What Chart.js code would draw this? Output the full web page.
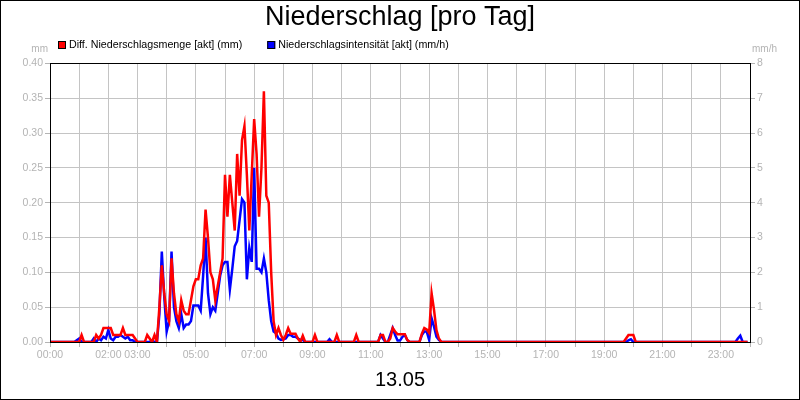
<!DOCTYPE html>
<html>
<head>
<meta charset="utf-8">
<script src="https://cdn.jsdelivr.net/npm/chart.js@4/dist/chart.umd.min.js"></script>
<style>
  html, body { margin: 0; padding: 0; background: #fff; }
  #wrap { width: 800px; height: 400px; }
</style>
</head>
<body>
<div id="wrap"><canvas id="rainChart" width="800" height="400"></canvas></div>
<script>
// 5-Minuten-Werte, eine Zeile = eine Stunde (00:00 ... 23:55)
const STEP_MIN = 5;

const mengeValues = [ // mm
  0, 0, 0, 0, 0, 0, 0, 0, 0, 0, 0, 0,
  0, 0.01, 0, 0, 0, 0, 0, 0.01, 0.005, 0.01, 0.02, 0.02,
  0.02, 0.02, 0.01, 0.01, 0.01, 0.01, 0.02, 0.01, 0.01, 0.01, 0.01, 0.005,
  0, 0, 0, 0, 0.01, 0.005, 0, 0.01, 0, 0.05, 0.11, 0.07,
  0.04, 0.03, 0.12, 0.07, 0.04, 0.03, 0.06, 0.045, 0.04, 0.04, 0.06, 0.08,
  0.09, 0.09, 0.11, 0.12, 0.19, 0.15, 0.10, 0.09, 0.06, 0.08, 0.10, 0.12,
  0.24, 0.18, 0.24, 0.20, 0.16, 0.27, 0.21, 0.29, 0.31, 0.24, 0.16, 0.24,
  0.32, 0.27, 0.18, 0.25, 0.36, 0.21, 0.20, 0.10, 0.03, 0.01, 0.02, 0.01,
  0.003, 0.01, 0.02, 0.012, 0.012, 0.012, 0.005, 0, 0.009, 0, 0, 0,
  0, 0.01, 0, 0, 0, 0, 0, 0, 0, 0, 0.01, 0,
  0, 0, 0, 0, 0, 0, 0.01, 0, 0, 0, 0, 0,
  0, 0, 0, 0, 0.01, 0.01, 0, 0, 0.005, 0.02, 0.015, 0.011,
  0.011, 0.011, 0.011, 0.003, 0, 0, 0, 0, 0, 0.012, 0.02, 0.018,
  0.013, 0.07, 0.046, 0.017, 0.005, 0, 0, 0, 0, 0, 0, 0,
  0, 0, 0, 0, 0, 0, 0, 0, 0, 0, 0, 0,
  0, 0, 0, 0, 0, 0, 0, 0, 0, 0, 0, 0,
  0, 0, 0, 0, 0, 0, 0, 0, 0, 0, 0, 0,
  0, 0, 0, 0, 0, 0, 0, 0, 0, 0, 0, 0,
  0, 0, 0, 0, 0, 0, 0, 0, 0, 0, 0, 0,
  0, 0, 0, 0, 0, 0, 0, 0, 0, 0.005, 0.01, 0.01,
  0.01, 0, 0, 0, 0, 0, 0, 0, 0, 0, 0, 0,
  0, 0, 0, 0, 0, 0, 0, 0, 0, 0, 0, 0,
  0, 0, 0, 0, 0, 0, 0, 0, 0, 0, 0, 0,
  0, 0, 0, 0, 0, 0, 0, 0, 0, 0, 0, 0
];

const intensitaetValues = [ // mm/h
  0, 0, 0, 0, 0, 0, 0, 0, 0, 0, 0, 0.05,
  0.1, 0, 0, 0, 0, 0, 0.1, 0, 0.1, 0.05, 0.15, 0.1,
  0.35, 0.1, 0.05, 0.15, 0.15, 0.2, 0.15, 0.1, 0.15, 0.05, 0.05, 0,
  0, 0, 0, 0, 0, 0, 0.05, 0, 0, 0.8, 2.6, 1.3,
  0.3, 0.6, 2.6, 1.0, 0.6, 0.4, 0.8, 0.4, 0.5, 0.5, 0.6, 1.05,
  1.05, 1.05, 0.9, 1.9, 3.0, 1.4, 0.8, 1.0, 0.9, 1.4, 1.9, 2.2,
  2.3, 2.3, 1.5, 2.1, 2.75, 2.9, 3.5, 4.1, 4.0, 1.8, 2.7, 2.3,
  5.0, 2.1, 2.1, 2.0, 2.4, 2.0, 1.2, 0.6, 0.3, 0.25, 0.1, 0.06,
  0.08, 0.1, 0.2, 0.2, 0.15, 0.15, 0.1, 0.06, 0.06, 0, 0, 0,
  0, 0, 0, 0, 0, 0, 0, 0.08, 0, 0, 0, 0,
  0, 0, 0, 0, 0, 0, 0, 0, 0, 0, 0, 0,
  0, 0, 0, 0, 0.2, 0.1, 0, 0, 0.2, 0.4, 0.2, 0.04,
  0.04, 0.15, 0.2, 0.05, 0, 0, 0, 0, 0, 0.2, 0.3, 0.3,
  0.06, 0.68, 0.44, 0.15, 0.06, 0, 0, 0, 0, 0, 0, 0,
  0, 0, 0, 0, 0, 0, 0, 0, 0, 0, 0, 0,
  0, 0, 0, 0, 0, 0, 0, 0, 0, 0, 0, 0,
  0, 0, 0, 0, 0, 0, 0, 0, 0, 0, 0, 0,
  0, 0, 0, 0, 0, 0, 0, 0, 0, 0, 0, 0,
  0, 0, 0, 0, 0, 0, 0, 0, 0, 0, 0, 0,
  0, 0, 0, 0, 0, 0, 0, 0, 0, 0, 0.05, 0.08,
  0, 0, 0, 0, 0, 0, 0, 0, 0, 0, 0, 0,
  0, 0, 0, 0, 0, 0, 0, 0, 0, 0, 0, 0,
  0, 0, 0, 0, 0, 0, 0, 0, 0, 0, 0, 0,
  0, 0, 0, 0, 0, 0, 0, 0.1, 0.18, 0, 0, 0
];

const labeledHours = [0, 2, 3, 5, 7, 9, 11, 13, 15, 17, 19, 21, 23];
const leftTicks = [0, 0.05, 0.10, 0.15, 0.20, 0.25, 0.30, 0.35, 0.40];
const rightTicks = [0, 1, 2, 3, 4, 5, 6, 7, 8];
const seriesNames = ['Diff. Niederschlagsmenge [akt] (mm)', 'Niederschlagsintensität [akt] (mm/h)'];

const FONT = 'Arial, "Liberation Sans", sans-serif';
const GREY = '#b4b4b4';

function toPoints(values) {
    return values.map((v, i) => ({ x: i * STEP_MIN, y: v }));
}

function pad2(n) {
    return (n < 10 ? '0' : '') + n;
}

// Legende, Einheiten und Rahmen
const decoPlugin = {
    id: 'deco',
    afterDraw(chart) {
        const c = chart.ctx;
        const area = chart.chartArea;
        c.save();

        c.strokeStyle = '#000';
        c.lineWidth = 1;
        c.strokeRect(Math.round(area.left) + 0.5, Math.round(area.top) + 0.5,
            Math.round(area.right - area.left), Math.round(area.bottom - area.top));
        c.strokeRect(0.5, 0.5, 799, 399);

        // legend
        c.font = '10.7px ' + FONT;
        c.textBaseline = 'middle';
        let x = 58;
        chart.data.datasets.forEach((ds, i) => {
            c.fillStyle = ds.borderColor;
            c.fillRect(x, 41, 8, 8);
            c.strokeStyle = '#000';
            c.strokeRect(x + 0.5, 41.5, 7, 7);
            c.fillStyle = '#000';
            c.textAlign = 'left';
            c.fillText(ds.label, x + 11, 45);
            x += 11 + c.measureText(ds.label).width + 25;
        });

        // units
        c.fillStyle = GREY;
        c.font = '10px ' + FONT;
        c.textAlign = 'right';
        c.fillText('mm', 48, 49);
        c.textAlign = 'left';
        c.fillText('mm/h', 752, 49);
        c.restore();
    }
};

const ctx = document.getElementById('rainChart').getContext('2d');
const rainChart = new Chart(ctx, {
    type: 'line',
    data: {
        datasets: [{
            label: seriesNames[0],
            data: toPoints(mengeValues),
            borderColor: '#ff0000',
            backgroundColor: '#ff0000',
            borderWidth: 2.5,
            pointRadius: 0,
            tension: 0,
            yAxisID: 'y',
        }, {
            label: seriesNames[1],
            data: toPoints(intensitaetValues),
            borderColor: '#0000ff',
            backgroundColor: '#0000ff',
            borderWidth: 2.5,
            pointRadius: 0,
            tension: 0,
            yAxisID: 'y1',
        }],
    },
    options: {
        responsive: false,
        animation: false,
        events: [],
        layout: { padding: 0 },
        plugins: {
            legend: { display: false },
            tooltip: { enabled: false },
            title: {
                display: true,
                text: 'Niederschlag [pro Tag]',
                color: '#000',
                font: { family: FONT, size: 27, weight: 'normal' },
                padding: { top: 1, bottom: 30 },
            },
        },
        scales: {
            x: {
                type: 'linear',
                min: 0,
                max: 24 * 60,
                afterBuildTicks(scale) {
                    const t = [];
                    for (let h = 0; h <= 24; h++) t.push({ value: h * 60 });
                    scale.ticks = t;
                },
                afterFit(scale) { scale.height = 58; },
                ticks: {
                    autoSkip: false,
                    maxRotation: 0,
                    color: GREY,
                    padding: 2,
                    font: { family: FONT, size: 10.5 },
                    callback(v) {
                        const h = v / 60;
                        return labeledHours.includes(h) ? pad2(h) + ':00' : '';
                    },
                },
                grid: { color: '#c4c4c4', tickColor: GREY, tickLength: 5 },
                border: { color: '#000' },
                title: {
                    display: true,
                    text: '13.05',
                    color: '#000',
                    font: { family: FONT, size: 20 },
                    padding: { top: 0, bottom: 8 },
                },
            },
            y: {
                position: 'left',
                min: 0,
                max: 0.4,
                afterBuildTicks(scale) { scale.ticks = leftTicks.map(v => ({ value: v })); },
                afterFit(scale) { scale.width = 50; },
                ticks: {
                    color: GREY,
                    padding: 2,
                    font: { family: FONT, size: 10.5 },
                    callback: v => v.toFixed(2),
                },
                grid: { color: '#c4c4c4', tickColor: GREY, tickLength: 5 },
                border: { color: '#000' },
            },
            y1: {
                position: 'right',
                min: 0,
                max: 8,
                afterBuildTicks(scale) { scale.ticks = rightTicks.map(v => ({ value: v })); },
                afterFit(scale) { scale.width = 50; },
                ticks: {
                    color: GREY,
                    padding: 2,
                    font: { family: FONT, size: 10.5 },
                },
                grid: { drawOnChartArea: false, tickColor: GREY, tickLength: 5 },
                border: { color: '#000' },
            },
        },
    },
    plugins: [decoPlugin],
});
</script>
</body>
</html>
